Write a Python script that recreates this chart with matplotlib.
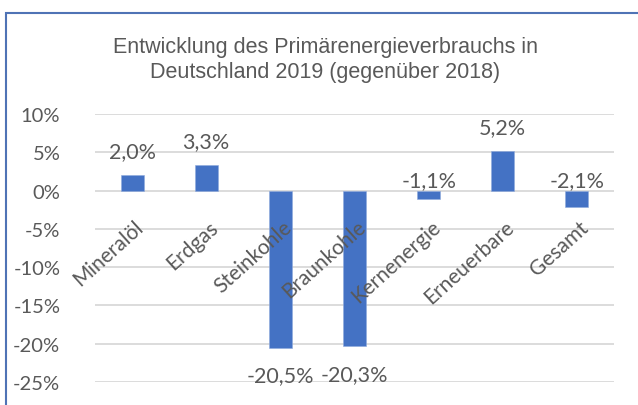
import numpy as np
import matplotlib
matplotlib.use('Agg')
import matplotlib.pyplot as plt
from matplotlib.patches import Rectangle
from matplotlib.ticker import FuncFormatter, MultipleLocator
import matplotlib.transforms as mtransforms

# Daten: Veränderung des Primärenergieverbrauchs 2019 gegenüber 2018 in %
kategorien = ['Mineralöl', 'Erdgas', 'Steinkohle', 'Braunkohle',
              'Kernenergie', 'Erneuerbare', 'Gesamt']
werte = [2.0, 3.3, -20.5, -20.3, -1.1, 5.2, -2.1]
titel = 'Entwicklung des Primärenergieverbrauchs in\nDeutschland 2019 (gegenüber 2018)'

blau = '#4472C4'
grau = '#595959'
raster = '#D9D9D9'
schrift = ['Lato', 'DejaVu Sans']

fig = plt.figure(figsize=(6.38, 4.06), dpi=100)
ax = fig.add_axes([95 / 638, 1 - 383 / 406, (614 - 95) / 638, (383 - 115) / 406])

x = np.arange(len(kategorien))
ax.bar(x, werte, width=0.31, color=blau, edgecolor='#8FAADC', linewidth=0.4, zorder=3)

ax.set_xlim(-0.5, len(kategorien) - 0.5)
ax.set_ylim(-25, 10)
ax.yaxis.set_major_locator(MultipleLocator(5))
ax.yaxis.set_major_formatter(FuncFormatter(lambda v, p: f'{v:.0f}%'))
ax.grid(axis='y', color=raster, linewidth=1.3, zorder=0)
ax.set_xticks([])
for s in ax.spines.values():
    s.set_visible(False)
ax.tick_params(axis='y', length=0, pad=25, labelsize=14.5, labelcolor=grau)
for lbl in ax.get_yticklabels():
    lbl.set_family(schrift)

# Kategorienbeschriftung an der Nulllinie, schräg
for i, name in enumerate(kategorien):
    tr = mtransforms.offset_copy(ax.transData, fig=fig, x=2, y=-26, units='dots')
    ax.text(i, 0, name, transform=tr, rotation=42, rotation_mode='anchor',
            ha='right', va='top', fontsize=15, color=grau, family=schrift, zorder=4)

# Datenbeschriftungen
for i, v in enumerate(werte):
    txt = f'{v:.1f}%'.replace('.', ',')
    if v >= 0:
        tr = mtransforms.offset_copy(ax.transData, fig=fig, x=0, y=24, units='dots')
        ax.text(i, v, txt, transform=tr, ha='center', va='center', fontsize=15.5,
                color=grau, family=schrift, zorder=4)
    elif v > -5:
        tr = mtransforms.offset_copy(ax.transData, fig=fig, x=0, y=10, units='dots')
        ax.text(i, 0, txt, transform=tr, ha='center', va='center', fontsize=15.5,
                color=grau, family=schrift, zorder=4)
    else:
        tr = mtransforms.offset_copy(ax.transData, fig=fig, x=0, y=-28, units='dots')
        ax.text(i, v, txt, transform=tr, ha='center', va='center', fontsize=15.5,
                color=grau, family=schrift, zorder=4)

fig.text(325 / 638, 1 - 60 / 406, titel, ha='center', va='center', fontsize=15.5,
         color=grau, family=['Liberation Sans', 'DejaVu Sans'], linespacing=1.2)

# Rahmen des Diagrammbereichs
fig.patches.append(Rectangle((6 / 638, -0.1), 1.2, 1.1 - 14 / 406, transform=fig.transFigure,
                             fill=False, edgecolor='#4F73B5', linewidth=1.5))

fig.savefig('out.png', dpi=100)
